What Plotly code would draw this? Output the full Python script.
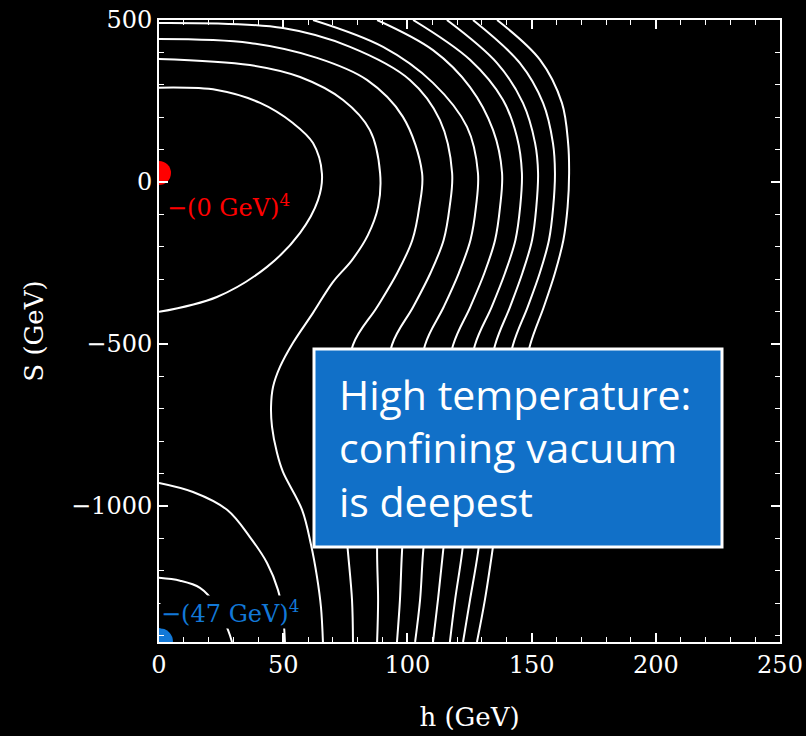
import plotly.graph_objects as go

# ---- data (h in GeV, S in GeV) ----
C1_H = [0, 23.3, 40.7, 53.9, 62.0, 65.6, 64.0, 56.8, 43.5, 23.3, 0]
C1_S = [291, 284, 244, 182, 120, 25, -56, -157, -262, -355, -401]

C2_H = [0, 36.6, 56.8, 74.1, 84.9, 89.0, 88.2, 84.1, 77.7, 70.0, 62.0, 53.9, 48.7, 45.9, 45.1, 45.5, 47.5, 49.9, 57.6, 61.2, 63.6, 65.2, 66.0]
C2_S = [380, 361, 324, 253, 160, 28, -77, -164, -241, -309, -404, -497, -571, -633, -694, -756, -836, -895, -1012, -1120, -1219, -1312, -1420]

C3_H = [0, 36.6, 63.6, 83.7, 98.2, 105.9, 104.8, 102.0, 95.9, 87.8, 78.1, 74.1, 73.3, 74.5, 76.1, 77.7, 78.1]
C3_S = [441, 429, 383, 315, 201, 28, -77, -179, -281, -386, -503, -735, -889, -1012, -1145, -1290, -1420]

C4_H = [0, 49.9, 76.9, 101.0, 113.1, 118.0, 117.0, 114.6, 109.3, 102.3, 93.8, 90.2, 88.2, 87.8, 88.2, 87.8]
C4_S = [491, 475, 417, 315, 191, 28, -77, -179, -281, -386, -503, -735, -920, -1145, -1290, -1420]

C5_H = [62.0, 90.2, 110.3, 124.0, 128.4, 127.6, 125.4, 120.7, 114.6, 107.1, 103.1, 99.8, 97.8, 97.0, 95.8]
C5_S = [500, 417, 306, 170, 28, -77, -179, -281, -386, -503, -735, -920, -1145, -1290, -1420]

C6_H = [87.8, 110.3, 125.2, 134.5, 138.1, 137.3, 135.3, 131.0, 125.3, 118.4, 113.1, 109.1, 106.3, 105.1, 103.1]
C6_S = [500, 407, 293, 160, 28, -77, -179, -281, -386, -503, -735, -920, -1145, -1290, -1420]

C7_H = [102.3, 125.2, 138.5, 144.1, 146.1, 145.4, 143.5, 139.3, 133.9, 127.2, 122.0, 117.6, 114.3, 112.3, 110.3]
C7_S = [500, 377, 253, 139, 28, -77, -179, -281, -386, -503, -735, -920, -1145, -1290, -1420]

C8_H = [115.9, 136.1, 146.5, 151.4, 152.6, 151.9, 150.2, 146.3, 141.3, 135.3, 129.6, 125.2, 122.0, 119.2, 117.1]
C8_S = [500, 367, 244, 120, 28, -77, -179, -281, -386, -503, -735, -920, -1145, -1290, -1420]

C9_H = [126.4, 145.3, 154.6, 158.6, 159.4, 158.7, 157.0, 153.3, 148.4, 142.5, 136.5, 132.0, 128.4, 125.2, 122.4]
C9_S = [500, 367, 244, 120, 28, -77, -179, -281, -386, -503, -735, -920, -1145, -1290, -1420]

C10_H = [136.1, 153.4, 162.2, 164.7, 165.1, 164.5, 162.8, 159.4, 154.9, 149.4, 142.9, 138.1, 134.1, 131.2, 128.0]
C10_S = [500, 377, 244, 120, 28, -77, -179, -281, -386, -503, -735, -920, -1145, -1290, -1420]

C11_H = [0, 13.7, 27.4, 36.6, 43.5, 47.9, 49.9, 50.7]
C11_S = [-929, -957, -1012, -1096, -1176, -1259, -1336, -1420]

C12_H = [0, 8.5, 16.5, 22.9, 27.8, 29.4]
C12_S = [-1222, -1231, -1253, -1306, -1383, -1420]

CONTOURS = [(C1_H, C1_S), (C2_H, C2_S), (C3_H, C3_S), (C4_H, C4_S), (C5_H, C5_S), (C6_H, C6_S),
            (C7_H, C7_S), (C8_H, C8_S), (C9_H, C9_S), (C10_H, C10_S), (C11_H, C11_S), (C12_H, C12_S)]

MIN_RED_H, MIN_RED_S = [0], [28]
MIN_BLUE_H, MIN_BLUE_S = [0], [-1420]
RED_LABEL = "\u2212(0 GeV)<sup>4</sup>"
BLUE_LABEL = "\u2212(47 GeV)<sup>4</sup>"

X_TICKS = [0, 50, 100, 150, 200, 250]
Y_TICKS = [500, 0, -500, -1000]

RED = "#ff0000"
BLUE = "#1278d7"
SERIF = "DejaVu Serif"

fig = go.Figure()
for hs, ss in CONTOURS:
    fig.add_trace(go.Scatter(x=hs, y=ss, mode="lines", line=dict(color="white", width=2, shape="spline", smoothing=1.0),
                             showlegend=False, hoverinfo="skip"))

fig.add_trace(go.Scatter(x=MIN_RED_H, y=MIN_RED_S, mode="markers", marker=dict(color=RED, size=24),
                         showlegend=False, cliponaxis=True))
fig.add_trace(go.Scatter(x=MIN_BLUE_H, y=MIN_BLUE_S, mode="markers", marker=dict(color=BLUE, size=28),
                         showlegend=False, cliponaxis=True))

axis_common = dict(
    showgrid=False, zeroline=False, showline=True, linecolor="white", linewidth=2,
    mirror="allticks", ticks="inside", ticklen=9, tickwidth=1.5, tickcolor="white",
    tickfont=dict(family=SERIF, size=24, color="white"), automargin=False,
)

fig.update_layout(
    width=806, height=736,
    paper_bgcolor="black", plot_bgcolor="black",
    margin=dict(l=159, r=26, t=20, b=94, autoexpand=False),
    xaxis=dict(range=[0, 250], tickvals=X_TICKS,
               minor=dict(dtick=10, tick0=0, ticks="inside", ticklen=5, tickwidth=1.2, tickcolor="white", showgrid=False),
               title=dict(text="h (GeV)", font=dict(family=SERIF, size=26, color="white"), standoff=30),
               **axis_common),
    yaxis=dict(range=[-1420, 500], tickvals=Y_TICKS,
               minor=dict(dtick=100, tick0=0, ticks="inside", ticklen=5, tickwidth=1.2, tickcolor="white", showgrid=False),
               title=dict(text="S (GeV)", font=dict(family=SERIF, size=26, color="white"), standoff=20),
               **axis_common),
    font=dict(family=SERIF, color="white"),
)

fig.add_annotation(x=2.4, y=-74, xref="x", yref="y", text=RED_LABEL, showarrow=False,
                   xanchor="left", yanchor="middle", font=dict(family=SERIF, size=24, color=RED))
fig.add_annotation(x=0.4, y=-1327, xref="x", yref="y", text=BLUE_LABEL, showarrow=False,
                   xanchor="left", yanchor="middle", bgcolor="black", borderpad=0,
                   font=dict(family=SERIF, size=24, color=BLUE))

fig.add_shape(type="rect", xref="paper", yref="paper", x0=0.2496, x1=0.9066, y0=0.1527, y1=0.471,
              fillcolor="#1170c8", line=dict(color="white", width=3), layer="above")
fig.add_annotation(x=0.2866, y=0.312, xref="paper", yref="paper", showarrow=False,
                   text="High temperature:<br>confining vacuum<br>is deepest", align="left",
                   xanchor="left", yanchor="middle", font=dict(family="Open Sans", size=41, color="white"))

fig.write_html("out.html")
